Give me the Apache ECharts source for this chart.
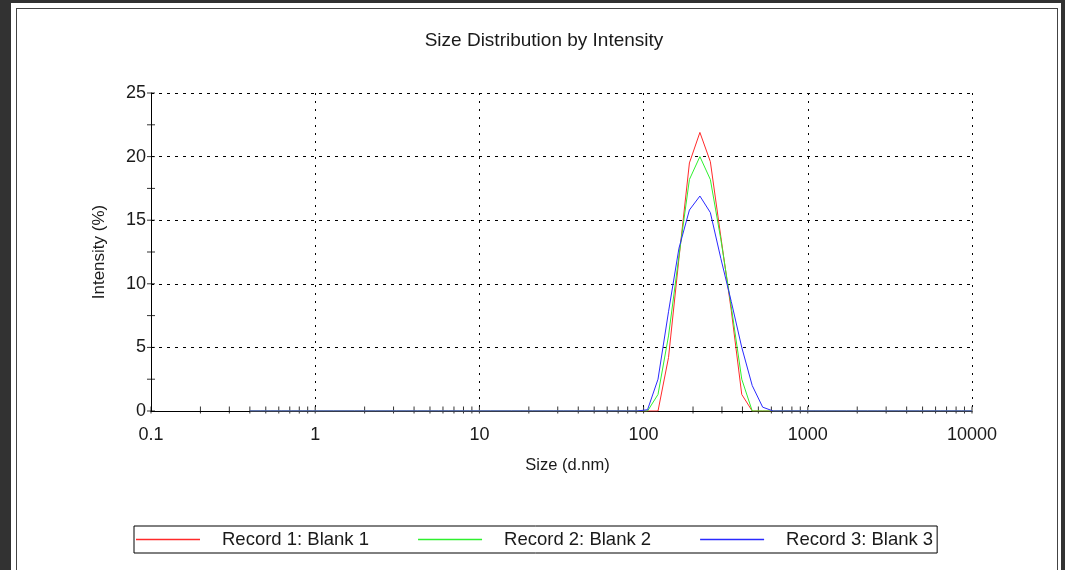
<!DOCTYPE html>
<html>
<head>
<meta charset="utf-8">
<script src="https://cdn.jsdelivr.net/npm/echarts@6/dist/echarts.min.js"></script>
<style>
  html, body { margin: 0; padding: 0; background: #323232; }
  #panel { position: absolute; left: 11px; top: 3px; width: 1050px; height: 580px; background: #ffffff; }
  #frame { position: absolute; left: 16px; top: 8px; width: 1040px; height: 580px; border: 1px solid #444; }
  #chart { position: absolute; left: 0; top: 0; width: 1065px; height: 570px; }
</style>
</head>
<body>
<div id="panel"></div>
<div id="frame"></div>
<div id="chart"></div>
<script>
// Size bins (d.nm)
const sizes = [0.4, 0.4632, 0.5365, 0.6213, 0.7195, 0.8332, 0.9649, 1.117, 1.294, 1.499,
  1.736, 2.010, 2.328, 2.696, 3.122, 3.615, 4.187, 4.849, 5.615, 6.503,
  7.531, 8.721, 10.10, 11.70, 13.54, 15.69, 18.17, 21.04, 24.36, 28.21,
  32.67, 37.84, 43.82, 50.75, 58.77, 68.06, 78.82, 91.28, 105.7, 122.4,
  141.8, 164.2, 190.1, 220.2, 255.0, 295.3, 342.0, 396.1, 458.7, 531.2,
  615.1, 712.4, 825.0, 955.4, 1106, 1281, 1484, 1718, 1990, 2305,
  2669, 3091, 3580, 4145, 4801, 5560, 6439, 7456, 8635, 10000];

// Intensity (%) per bin
const record1 = [0, 0, 0, 0, 0, 0, 0, 0, 0, 0,
  0, 0, 0, 0, 0, 0, 0, 0, 0, 0,
  0, 0, 0, 0, 0, 0, 0, 0, 0, 0,
  0, 0, 0, 0, 0, 0, 0, 0, 0, 0,
  4.2, 12.0, 19.5, 21.9, 19.6, 13.7, 7.9, 1.3, 0, 0,
  0, 0, 0, 0, 0, 0, 0, 0, 0, 0,
  0, 0, 0, 0, 0, 0, 0, 0, 0, 0];
const record2 = [0, 0, 0, 0, 0, 0, 0, 0, 0, 0,
  0, 0, 0, 0, 0, 0, 0, 0, 0, 0,
  0, 0, 0, 0, 0, 0, 0, 0, 0, 0,
  0, 0, 0, 0, 0, 0, 0, 0, 0, 1.3,
  5.9, 12.2, 18.2, 20.0, 18.2, 13.5, 8.2, 2.5, 0, 0,
  0, 0, 0, 0, 0, 0, 0, 0, 0, 0,
  0, 0, 0, 0, 0, 0, 0, 0, 0, 0];
const record3 = [0, 0, 0, 0, 0, 0, 0, 0, 0, 0,
  0, 0, 0, 0, 0, 0, 0, 0, 0, 0,
  0, 0, 0, 0, 0, 0, 0, 0, 0, 0,
  0, 0, 0, 0, 0, 0, 0, 0, 0.1, 2.5,
  7.8, 12.8, 15.8, 16.9, 15.6, 12.0, 8.6, 5.0, 2.0, 0.3,
  0, 0, 0, 0, 0, 0, 0, 0, 0, 0,
  0, 0, 0, 0, 0, 0, 0, 0, 0, 0];

const seriesNames = ['Record 1: Blank 1', 'Record 2: Blank 2', 'Record 3: Blank 3'];
const seriesColors = ['#ff2a2a', '#2ef02e', '#2a2aff'];

// Axis decoration: tick positions
const xDecades = [0.1, 1, 10, 100, 1000];
const xTickMultipliers = [1, 2, 3, 4, 5, 6, 7, 8, 9];
const yTickValues = [0, 2.5, 5, 7.5, 10, 12.5, 15, 17.5, 20, 22.5, 25];

const xTicks = [];
xDecades.forEach(d => xTickMultipliers.forEach(m => xTicks.push([+(d * m).toPrecision(3), 0])));
xTicks.push([10000, 0]);
const yTicks = yTickValues.map(v => [0.1, v]);

const FONT = 'Liberation Sans';
const records = [record1, record2, record3];

const chart = echarts.init(document.getElementById('chart'));
chart.setOption({
  backgroundColor: 'transparent',
  animation: false,
  textStyle: { fontFamily: FONT },
  title: {
    text: 'Size Distribution by Intensity',
    left: 539, top: 26, textAlign: 'center',
    textStyle: { fontFamily: FONT, fontSize: 19, fontWeight: 'normal', color: '#1a1a1a' }
  },
  grid: { left: 151, top: 93, right: 93, bottom: 159, containLabel: false },
  legend: {
    data: seriesNames.map((n, k) => ({ name: n, icon: 'rect', itemStyle: { color: seriesColors[k] } })),
    left: 134, top: 526,
    orient: 'horizontal',
    padding: [4, 4, 4, 2],
    itemGap: 49,
    itemWidth: 64, itemHeight: 1.5,
    borderColor: '#000', borderWidth: 1,
    textStyle: { fontFamily: FONT, fontSize: 18.5, color: '#1a1a1a', padding: [0, 0, 0, 17], lineHeight: 18 }
  },
  xAxis: {
    type: 'log', logBase: 10, min: 0.1, max: 10000,
    name: 'Size (d.nm)', nameLocation: 'middle', nameGap: 46,
    nameTextStyle: { fontFamily: FONT, fontSize: 16.5, color: '#1a1a1a', padding: [0, 0, 0, 12] },
    axisLine: { show: true, lineStyle: { color: '#000', width: 1 } },
    axisTick: { show: false },
    axisLabel: { fontFamily: FONT, fontSize: 18, color: '#1a1a1a', margin: 15,
      formatter: v => (v < 1 ? String(v) : String(Math.round(v))) },
    splitLine: { show: true, lineStyle: { color: '#000', type: [2, 6], width: 1 } }
  },
  yAxis: {
    type: 'value', min: 0, max: 25, interval: 5,
    name: 'Intensity (%)', nameLocation: 'middle', nameGap: 43, nameRotate: 90,
    nameTextStyle: { fontFamily: FONT, fontSize: 17, color: '#1a1a1a' },
    axisLine: { show: true, lineStyle: { color: '#000', width: 1 } },
    axisTick: { show: false },
    axisLabel: { fontFamily: FONT, fontSize: 18, color: '#1a1a1a', margin: 5 },
    splitLine: { show: true, lineStyle: { color: '#000', type: [3, 5], width: 1 } }
  },
  series: [
    {
      type: 'scatter', silent: true, clip: false, z: 1,
      symbol: 'rect', symbolSize: [1, 7], symbolOffset: [0, -1],
      itemStyle: { color: '#000' }, data: xTicks, legendHoverLink: false
    },
    {
      type: 'scatter', silent: true, clip: false, z: 1,
      symbol: 'rect', symbolSize: [8, 1],
      itemStyle: { color: '#000' }, data: yTicks, legendHoverLink: false
    }
  ].concat(records.map((rec, k) => ({
    name: seriesNames[k],
    type: 'line',
    symbol: 'none',
    z: 3,
    lineStyle: { color: seriesColors[k], width: 1 },
    itemStyle: { color: seriesColors[k] },
    data: sizes.map((s, i) => [s, rec[i]])
  })))
});
</script>
</body>
</html>
